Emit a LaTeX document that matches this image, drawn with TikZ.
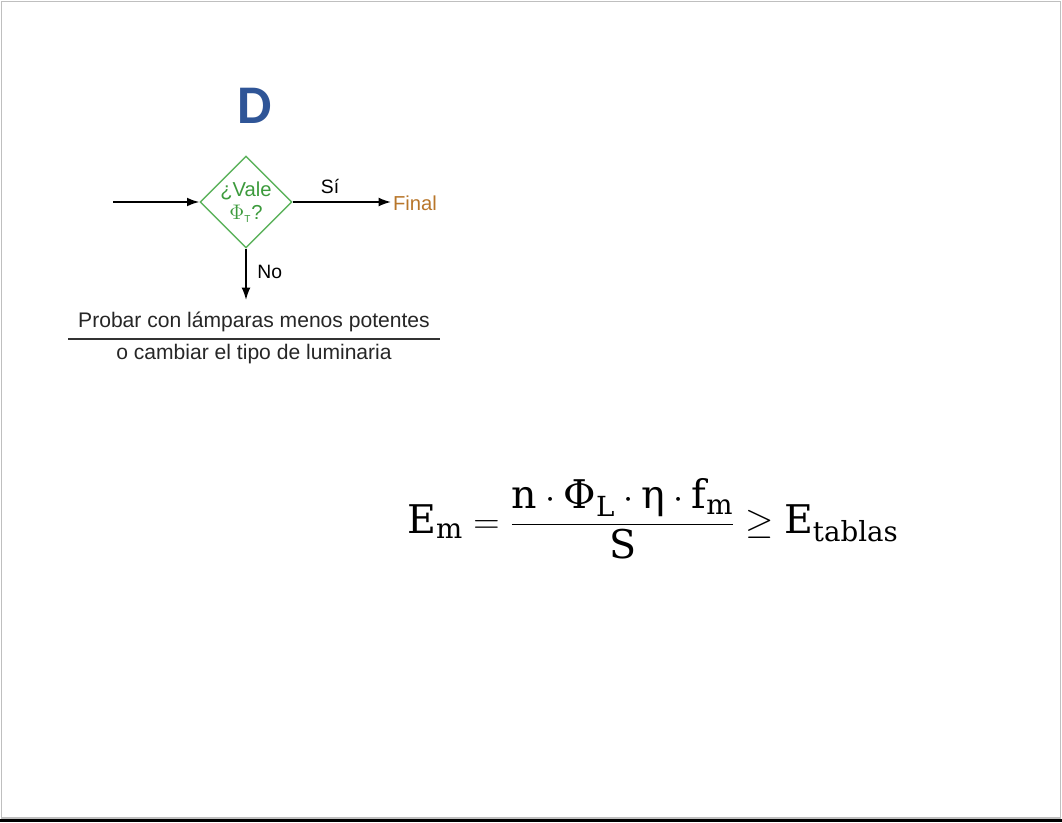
\documentclass[tikz,border=0pt]{standalone}
\usepackage{fontspec}
\usepackage{amsmath}
\setmainfont{Liberation Sans}
\newfontfamily\titlefont{Carlito}
\newfontfamily\formfont{DejaVu Serif}
\usetikzlibrary{shapes.geometric,arrows.meta}
\definecolor{titleblue}{HTML}{2F5597}
\definecolor{decgreen}{HTML}{3C9A3C}
\definecolor{decline}{HTML}{5DB35D}
\definecolor{finalc}{HTML}{B8762A}
\tikzset{
  flow/.style   ={draw=black, line width=0.9pt, -{Latex[length=7pt,width=5pt]}},
  decision/.style={diamond, draw=decline, line width=0.8pt, minimum width=1.84cm,
                   minimum height=1.84cm, inner sep=0pt, text=decgreen, align=center,
                   font=\fontsize{11.5}{13}\selectfont},
  lbl/.style    ={font=\fontsize{11}{13}\selectfont, inner sep=1pt},
  note/.style   ={font=\fontsize{12}{14}\selectfont, text=black!85, inner sep=1pt},
}

\begin{document}
\begin{tikzpicture}[x=0.02cm, y=-0.02cm]
  \useasboundingbox (0,0) rectangle (1062,822);
  % frame
  \draw[black!25, line width=0.6pt] (1.5,1.5) rectangle (1060.5,818);
  \fill[black] (0,819) rectangle (1062,822);
  % title
  \node[text=titleblue, font=\titlefont\bfseries\fontsize{31}{34}\selectfont] (title) at (255,106) {D};
  % decision
  \node[decision] (dec) at (246,202) {¿Vale\\[0pt]$\Phi_{\scriptscriptstyle\mathrm{T}}$?};
  \coordinate (in) at (113,202);
  \coordinate (noend) at (246,300);
  \node[lbl, font=\fontsize{11.5}{13}\selectfont, text=finalc, anchor=west] (fin) at (391,203) {Final};
  \node[note, anchor=south] (top) at (254,334) {Probar con lámparas menos potentes};
  \node[note, anchor=north] (bot) at (254,342) {o cambiar el tipo de luminaria};
  \coordinate (barL) at (68,339);
  \coordinate (barR) at (440,339);
  \draw[flow] (in) -- (dec.west);
  \draw[flow] (dec.east) -- (dec.east -| fin.west) node[lbl, pos=0.38, above=3pt] (si) {Sí};
  \draw[flow] (dec.south) -- (noend) node[lbl, pos=0.45, right=5pt] (no) {No};
  \draw[black!80, line width=0.9pt] (barL) -- (barR);
  % formula
  \node[font=\formfont\fontsize{22.5}{26}\selectfont] (form) at (653,519)
    {$\text{E}_{\text{m}} = \dfrac{\text{n}\cdot\text{Φ}_{\text{L}}\cdot\text{η}\cdot\text{f}_{\text{m}}}{\text{S}} \geq \text{E}_{\text{tablas}}$};
\end{tikzpicture}
\end{document}
